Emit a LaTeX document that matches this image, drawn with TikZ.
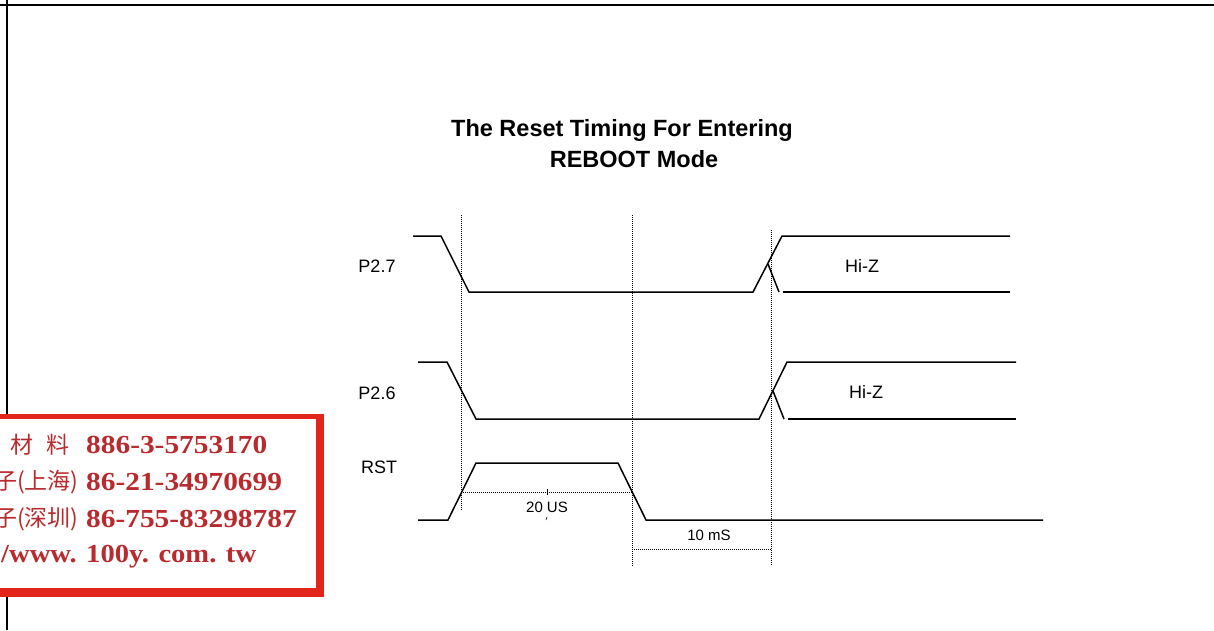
\documentclass[tikz,border=0pt]{standalone}
\usepackage{fontspec}
\setmainfont{Liberation Sans}
\newfontfamily\cjk{Noto Sans CJK SC}
\newfontfamily\adserif{Liberation Serif}
\definecolor{adred}{HTML}{E1251B}
\definecolor{adtext}{HTML}{B92A2E}
\begin{document}
\begin{tikzpicture}[x=1pt,y=-1pt,
  sig/.style={line width=1.5pt, line join=miter},
  guide/.style={line width=0.8pt, dash pattern=on 1pt off 1pt},
  lbl/.style={inner sep=0, font=\fontsize{18}{20}\selectfont},
  small/.style={inner sep=0, font=\fontsize{15}{17}\selectfont},
  ttl/.style={inner sep=0, font=\fontsize{23.5}{26}\selectfont\bfseries},
  adnum/.style={inner sep=0, anchor=west, text=adtext, font=\fontsize{26}{28}\selectfont\adserif\bfseries},
  adcn/.style={inner sep=0, anchor=west, text=adtext, font=\fontsize{23}{26}\selectfont\cjk}]
\useasboundingbox (0,0) rectangle (1214,630);
\begin{scope}
\clip (0,0) rectangle (1214,630);
% frame
\draw[line width=2pt] (0,5) -- (1214,5);
\draw[line width=2pt] (7,0) -- (7,630);
% title
\node[ttl] (t1) at (622,130) {The Reset Timing For Entering};
\node[ttl] (t2) at (634,159) {REBOOT Mode};
% guide lines
\draw[guide] (461,215) -- (461,510);
\draw[guide] (632,215) -- (632,566);
\draw[guide] (771,230) -- (771,566);
\draw[guide] (461,492) -- (632,492);
\draw[guide] (632,549) -- (771,549);
\draw[line width=0.6pt] (547,489) -- (547,495);
\draw[line width=0.6pt] (546,520) -- (547,517);
% P2.7
\draw[sig] (413,236) -- (441,236) -- (469,292) -- (753,292) -- (782,236) -- (1010,236);
\draw[sig] (768,264) -- (779,292);
\draw[sig] (783,292) -- (1010,292);
% P2.6
\draw[sig] (418,362) -- (447,362) -- (476,419) -- (759,419) -- (787,362) -- (1016,362);
\draw[sig] (773,391) -- (784,419);
\draw[sig] (788,419) -- (1016,419);
% RST
\draw[sig] (418,520) -- (448,520) -- (476,463) -- (618,463) -- (646,520) -- (1043,520);
% labels
\node[lbl] (lp27) at (377,266) {P2.7};
\node[lbl] (lp26) at (377,393) {P2.6};
\node[lbl] (lrst) at (379,467) {RST};
\node[lbl] (hz1) at (862,266) {Hi-Z};
\node[lbl] (hz2) at (866,392) {Hi-Z};
\node[small] (us) at (547,507) {20 US};
\node[small] (ms) at (709,535) {10 mS};
% red stamp
\fill[adred] (-10,414) rectangle (324,597);
\fill[white] (-10,419) rectangle (316,588);
\node[adcn] (c1a) at (10,445) {材};
\node[adcn] (c1b) at (46,445) {料};
\node[adnum] (n1) at (86,445) {\scalebox{1.13}[1]{886-3-5753170}};
\node[adcn] (c2) at (-6,482) {子(上海)};
\node[adnum] (n2) at (86,482) {\scalebox{1.13}[1]{86-21-34970699}};
\node[adcn] (c3) at (-6,519) {子(深圳)};
\node[adnum] (n3) at (86,519) {\scalebox{1.13}[1]{86-755-83298787}};
\node[adnum] (n4) at (1,557) {\scalebox{1.1}[1]{/www. 100y. com. tw}};
\end{scope}
\end{tikzpicture}
\end{document}
